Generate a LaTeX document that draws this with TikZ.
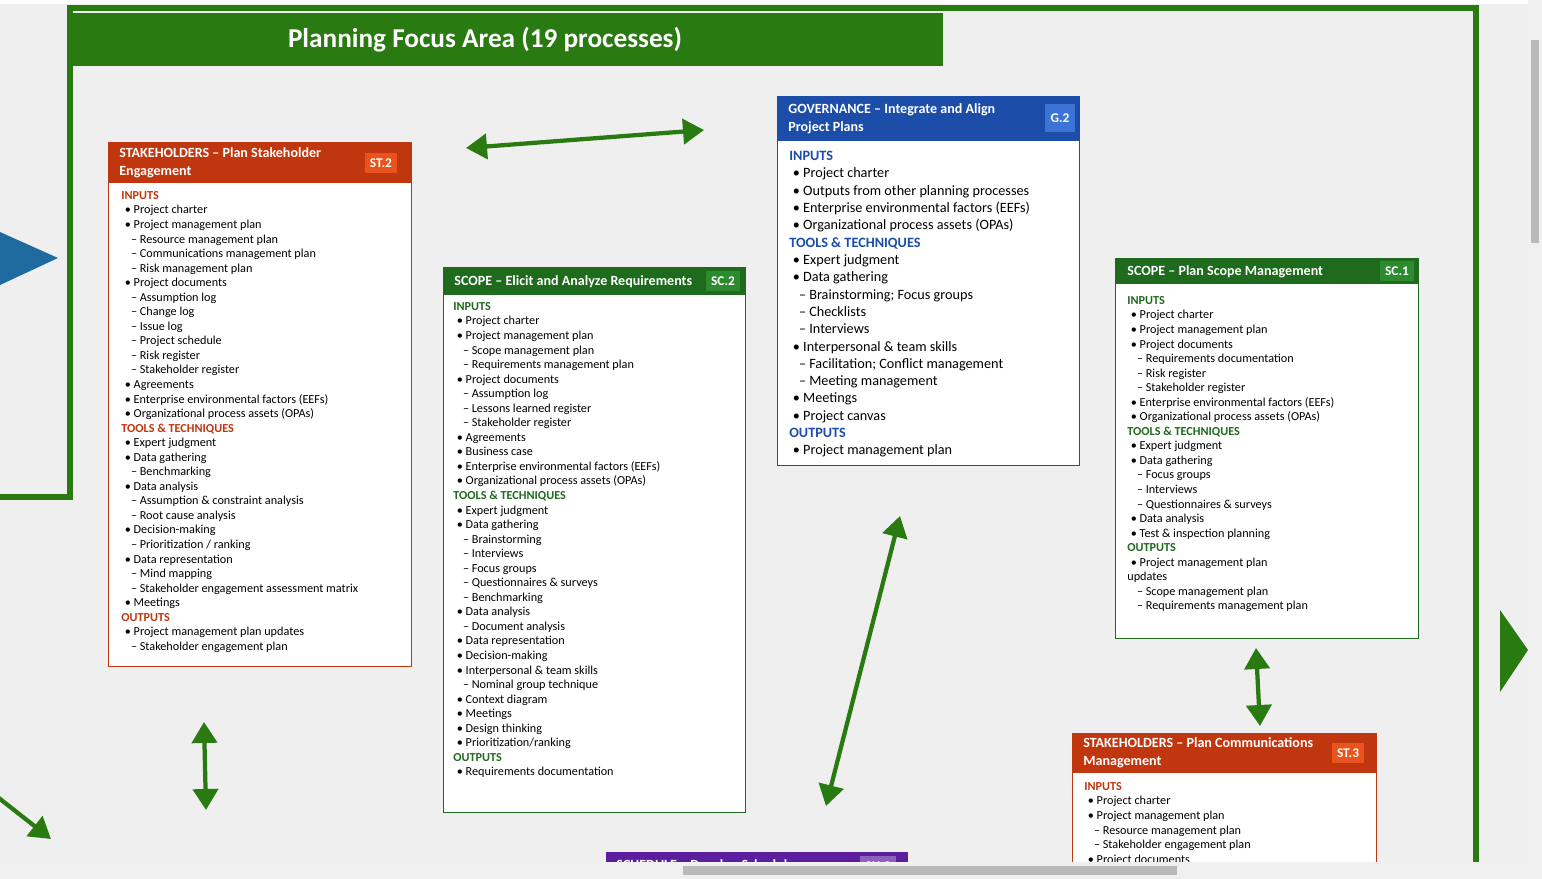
\documentclass[tikz,border=0pt]{standalone}
\usepackage{fontspec}
\setmainfont{Carlito}
\usetikzlibrary{arrows.meta, positioning, calc}
\definecolor{pgreen}{HTML}{2A7A12}
\definecolor{hgreen}{HTML}{1E6B1E}
\definecolor{sorange}{HTML}{C0360E}
\definecolor{torange}{HTML}{E8531E}
\definecolor{gblue}{HTML}{1C4DA8}
\definecolor{tblue}{HTML}{3B74D6}
\definecolor{sgreen}{HTML}{2E8A2E}
\definecolor{bggray}{HTML}{EFEFEF}
\definecolor{ppurple}{HTML}{5B1E9E}
\definecolor{tblueside}{HTML}{1F6A9E}
\newcommand\hd[2]{\textcolor{#1}{\textbf{#2}}\\}
\newcommand\bi[1]{\hspace*{2pt}\textbullet\ #1\\}
\newcommand\di[1]{\hspace*{5.5pt}-- #1\\}
\tikzset{
  x=0.02cm, y=-0.02cm,
  tag/.style={fill=#1, text=white, font=\bfseries\fontsize{7.6}{9}\selectfont, inner sep=3pt, minimum height=0.4cm},
  htext/.style={text=white, font=\bfseries\fontsize{8}{10.5}\selectfont, align=left, anchor=west, inner sep=0pt},
  body/.style={anchor=north west, align=left, inner sep=0pt, font=\fontsize{6.95}{8.28}\selectfont},
  link/.style={pgreen, line width=0.085cm, {Triangle[width=0.5cm,length=0.42cm]}-{Triangle[width=0.5cm,length=0.42cm]}},
}
\begin{document}
\begin{tikzpicture}
\fill[white] (0,0) rectangle (1542,879);
\begin{scope}
\clip (0,4) rectangle (1528,862);
\fill[bggray] (0,4) rectangle (1528,862);
\draw[gray!60] (0,2) -- (1528,2);

% Frame and title
\draw[pgreen, line width=0.12cm] (0,497) -- (70,497) -- (70,8) -- (1476,8) -- (1476,870);
\fill[pgreen] (73,13) rectangle (943,66);
\node[text=white, font=\bfseries\fontsize{15.5}{18}\selectfont] (title) at (485,40) {Planning Focus Area (19 processes)};

% Side triangles
\fill[tblueside] (0,232) -- (58,258) -- (0,285) -- cycle;
\fill[pgreen] (1500,610) -- (1528,650) -- (1500,692) -- cycle;

% ST.2
\fill[white] (108,142) rectangle (411,666);
\draw[sorange] (108,142) rectangle (411,666);
\fill[sorange] (108,142) rectangle (411,183);
\node[htext] (st2head) at (119,163) {STAKEHOLDERS -- Plan Stakeholder\\Engagement};
\node[tag=torange] (st2tag) at (381,163) {ST.2};
\node[body] (st2body) at (121,191) {%
\hd{sorange}{INPUTS}
\bi{Project charter}
\bi{Project management plan}
\di{Resource management plan}
\di{Communications management plan}
\di{Risk management plan}
\bi{Project documents}
\di{Assumption log}
\di{Change log}
\di{Issue log}
\di{Project schedule}
\di{Risk register}
\di{Stakeholder register}
\bi{Agreements}
\bi{Enterprise environmental factors (EEFs)}
\bi{Organizational process assets (OPAs)}
\hd{sorange}{TOOLS \& TECHNIQUES}
\bi{Expert judgment}
\bi{Data gathering}
\di{Benchmarking}
\bi{Data analysis}
\di{Assumption \& constraint analysis}
\di{Root cause analysis}
\bi{Decision-making}
\di{Prioritization / ranking}
\bi{Data representation}
\di{Mind mapping}
\di{Stakeholder engagement assessment matrix}
\bi{Meetings}
\hd{sorange}{OUTPUTS}
\bi{Project management plan updates}
\di{Stakeholder engagement plan}};

% SC.2
\fill[white] (443,267) rectangle (745,812);
\draw[hgreen] (443,267) rectangle (745,812);
\fill[hgreen] (443,267) rectangle (745,295);
\node[htext] (sc2head) at (454,282) {SCOPE -- Elicit and Analyze Requirements};
\node[tag=sgreen] (sc2tag) at (723,281) {SC.2};
\node[body] (sc2body) at (453,302) {%
\hd{hgreen}{INPUTS}
\bi{Project charter}
\bi{Project management plan}
\di{Scope management plan}
\di{Requirements management plan}
\bi{Project documents}
\di{Assumption log}
\di{Lessons learned register}
\di{Stakeholder register}
\bi{Agreements}
\bi{Business case}
\bi{Enterprise environmental factors (EEFs)}
\bi{Organizational process assets (OPAs)}
\hd{hgreen}{TOOLS \& TECHNIQUES}
\bi{Expert judgment}
\bi{Data gathering}
\di{Brainstorming}
\di{Interviews}
\di{Focus groups}
\di{Questionnaires \& surveys}
\di{Benchmarking}
\bi{Data analysis}
\di{Document analysis}
\bi{Data representation}
\bi{Decision-making}
\bi{Interpersonal \& team skills}
\di{Nominal group technique}
\bi{Context diagram}
\bi{Meetings}
\bi{Design thinking}
\bi{Prioritization/ranking}
\hd{hgreen}{OUTPUTS}
\bi{Requirements documentation}};

% G.2
\fill[white] (777,96) rectangle (1079,465);
\draw[gblue] (777,96) rectangle (1079,465);
\fill[gblue] (777,96) rectangle (1079,141);
\node[htext] (g2head) at (788,119) {GOVERNANCE -- Integrate and Align\\Project Plans};
\node[tag=tblue, minimum height=0.55cm] (g2tag) at (1060,118) {G.2};
\node[body, font=\fontsize{8.1}{9.85}\selectfont] (g2body) at (789,151) {%
\hd{gblue}{INPUTS}
\bi{Project charter}
\bi{Outputs from other planning processes}
\bi{Enterprise environmental factors (EEFs)}
\bi{Organizational process assets (OPAs)}
\hd{gblue}{TOOLS \& TECHNIQUES}
\bi{Expert judgment}
\bi{Data gathering}
\di{Brainstorming; Focus groups}
\di{Checklists}
\di{Interviews}
\bi{Interpersonal \& team skills}
\di{Facilitation; Conflict management}
\di{Meeting management}
\bi{Meetings}
\bi{Project canvas}
\hd{gblue}{OUTPUTS}
\bi{Project management plan}};

% SC.1
\fill[white] (1115,258) rectangle (1418,638);
\draw[hgreen] (1115,258) rectangle (1418,638);
\fill[hgreen] (1115,258) rectangle (1418,284);
\node[htext] (sc1head) at (1127,272) {SCOPE -- Plan Scope Management};
\node[tag=sgreen] (sc1tag) at (1397,271) {SC.1};
\node[body] (sc1body) at (1127,296) {%
\hd{hgreen}{INPUTS}
\bi{Project charter}
\bi{Project management plan}
\bi{Project documents}
\di{Requirements documentation}
\di{Risk register}
\di{Stakeholder register}
\bi{Enterprise environmental factors (EEFs)}
\bi{Organizational process assets (OPAs)}
\hd{hgreen}{TOOLS \& TECHNIQUES}
\bi{Expert judgment}
\bi{Data gathering}
\di{Focus groups}
\di{Interviews}
\di{Questionnaires \& surveys}
\bi{Data analysis}
\bi{Test \& inspection planning}
\hd{hgreen}{OUTPUTS}
\bi{Project management plan}
updates\\
\di{Scope management plan}
\di{Requirements management plan}};

% ST.3
\fill[white] (1072,733) rectangle (1376,900);
\draw[sorange] (1072,733) rectangle (1376,900);
\fill[sorange] (1072,733) rectangle (1376,773);
\node[htext] (st3head) at (1083,753) {STAKEHOLDERS -- Plan Communications\\Management};
\node[tag=torange] (st3tag) at (1348,753) {ST.3};
\node[body] (st3body) at (1084,782) {%
\hd{sorange}{INPUTS}
\bi{Project charter}
\bi{Project management plan}
\di{Resource management plan}
\di{Stakeholder engagement plan}
\bi{Project documents}};

% SCHEDULE (cut off)
\fill[ppurple] (606,852) rectangle (908,880);
\node[htext] (sh2head) at (616,866) {SCHEDULE -- Develop Schedule};
\node[tag=ppurple!70!white] (sh2tag) at (878,866) {SH.2};

% Links
\coordinate (a1) at (466,148); \coordinate (a2) at (704,130);
\coordinate (b1) at (204,722); \coordinate (b2) at (206,810);
\coordinate (c1) at (900,516); \coordinate (c2) at (826,806);
\coordinate (d1) at (1256,648); \coordinate (d2) at (1260,726);
\coordinate (e1) at (-5,795); \coordinate (e2) at (51,839);
\draw[link] (a1) -- (a2);
\draw[link] (b1) -- (b2);
\draw[link] (c1) -- (c2);
\draw[link] (d1) -- (d2);
\draw[pgreen, line width=0.085cm, -{Triangle[width=0.5cm,length=0.42cm]}] (e1) -- (e2);
\end{scope}

% Scrollbars
\fill[gray!12] (0,862) rectangle (1542,879);
\fill[gray!55] (683,866) rectangle (1177,875);
\fill[gray!12] (1528,0) rectangle (1542,862);
\fill[gray!55] (1531,40) rectangle (1539,243);
\end{tikzpicture}
\end{document}
